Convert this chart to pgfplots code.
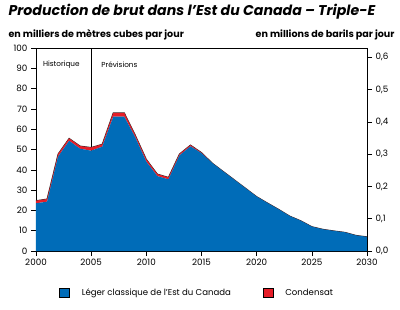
\documentclass[border=0pt]{standalone}
\usepackage{pgfplots}
\pgfplotsset{compat=1.18}
\usepackage{pgfplotstable}
\usepackage{fontspec}
\setmainfont{Poppins}
\definecolor{legerblue}{RGB}{0,108,184}
\definecolor{condred}{RGB}{230,30,40}

\pgfplotstableread{
year leger cond
2000 23.5 1.3
2001 24.3 1.3
2002 46.5 1.3
2003 54.3 1.2
2004 50.4 1.3
2005 49.4 1.6
2006 51.4 1.2
2007 66.2 1.9
2008 66.2 1.9
2009 56.0 1.1
2010 44.0 1.2
2011 36.9 1.0
2012 35.3 1.0
2013 47.1 0.7
2014 51.6 0.6
2015 48.2 0.3
2016 43.2 0.0
2017 39.1 0.0
2018 35.0 0.0
2019 30.9 0.0
2020 26.8 0.0
2021 23.6 0.0
2022 20.5 0.0
2023 17.2 0.0
2024 14.9 0.0
2025 12.0 0.0
2026 10.7 0.0
2027 9.9 0.0
2028 9.2 0.0
2029 7.7 0.0
2030 7.0 0.0
}\prod

\begin{document}
\begin{tikzpicture}
\useasboundingbox (-36bp,-59bp) rectangle (364bp,251bp);
\begin{axis}[
  scale only axis, width=331bp, height=203bp,
  xmin=2000, xmax=2030, ymin=0, ymax=100,
  xtick={2000,2005,...,2030}, ytick={0,10,...,100},
  xticklabel style={/pgf/number format/1000 sep={}},
  /pgf/number format/assume math mode=true,
  tick label style={font=\fontsize{8.8}{10}\selectfont},
  tick align=outside, xtick pos=bottom, ytick pos=left,
  major tick length=5bp, tick style={black, line width=0.6pt},
  axis line style={line width=0.9pt},
  stack plots=y,
  legend style={at={(0.487,-0.207)}, anchor=center, draw=none, fill=none,
    legend columns=2, font=\fontsize{8.6}{10}\selectfont,
    /tikz/every even column/.append style={column sep=30bp},
    legend cell align=left},
  legend image code/.code={\draw[#1, draw=black, line width=0.4pt] (0bp,-4.5bp) rectangle (10bp,4.5bp);},
]
\addplot[fill=legerblue, draw=none] table[x=year, y=leger] {\prod} \closedcycle;
\addlegendentry{\hspace{10bp}Léger classique de l'Est du Canada}
\addplot[fill=condred, draw=none] table[x=year, y=cond] {\prod} \closedcycle;
\addlegendentry{\hspace{10bp}Condensat}
\addplot[forget plot, black!85, line width=0.9pt] table[x=year, y expr=0] {\prod};
\draw[black, line width=0.9pt] (axis cs:2005,0) -- (axis cs:2005,100);
\node[font=\fontsize{7.3}{8}\selectfont] at (axis cs:2002.3,91.6) {Historique};
\node[font=\fontsize{7.3}{8}\selectfont] at (axis cs:2007.56,91.6) {Prévisions};
\end{axis}
\begin{axis}[
  scale only axis, width=331bp, height=203bp,
  xmin=2000, xmax=2030, ymin=0, ymax=0.6289,
  hide x axis, axis y line*=right,
  ytick={0,0.1,...,0.6},
  /pgf/number format/assume math mode=true,
  yticklabel style={/pgf/number format/.cd, use comma, fixed, fixed zerofill, precision=1},
  tick label style={font=\fontsize{8.8}{10}\selectfont},
  tick align=outside, major tick length=5bp, tick style={black, line width=0.6pt},
  axis line style={line width=0.9pt},
]
\end{axis}
\node[anchor=base west, font=\bfseries\itshape\fontsize{14.2}{16}\selectfont] at (-31bp,235bp) {Production de brut dans l’Est du Canada – Triple-E};
\node[anchor=base west, font=\bfseries\fontsize{9.6}{11}\selectfont] at (-31bp,213bp) {en milliers de mètres cubes par jour};
\node[anchor=base east, font=\bfseries\fontsize{9.6}{11}\selectfont] at (362bp,213bp) {en millions de barils par jour};
\end{tikzpicture}
\end{document}
